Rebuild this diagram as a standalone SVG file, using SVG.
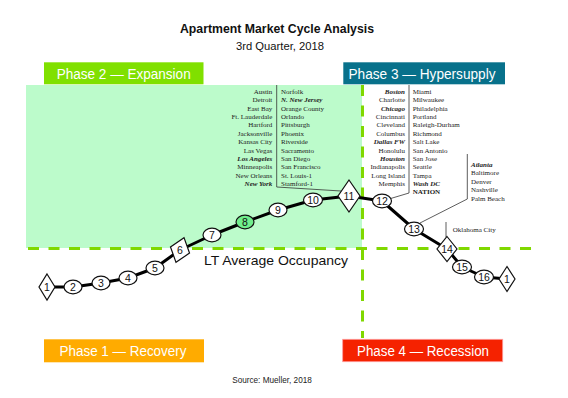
<svg xmlns="http://www.w3.org/2000/svg" width="568" height="398" viewBox="0 0 568 398">
<style>
.title{font-family:"Liberation Sans",Arial,sans-serif;font-weight:bold;font-size:12.2px;fill:#111}
.sub{font-family:"Liberation Sans",Arial,sans-serif;font-size:10.5px;fill:#111}
.phase{font-family:"Liberation Sans",Arial,sans-serif;font-size:14px;fill:#fff}
.occ{font-family:"Liberation Sans",Arial,sans-serif;font-size:13.5px;fill:#111}
.src{font-family:"Liberation Sans",Arial,sans-serif;font-size:8.2px;fill:#222}
.city{font-family:"Liberation Serif","Times New Roman",serif;font-size:7px;fill:#222}
.bi{font-weight:bold;font-style:italic}
.b{font-weight:bold}
.r{text-anchor:end}
.num{font-family:"Liberation Sans",Arial,sans-serif;font-size:10.5px;fill:#111;text-anchor:middle}
.node{fill:#fff;stroke:#111;stroke-width:1.2}
.hl{fill:#70ee8c}
.dash{stroke:#80d800;stroke-width:3;stroke-dasharray:11 9.5;fill:none}
.brk{stroke:#333;stroke-width:0.8;fill:none}
</style>

<rect x="26" y="85" width="336" height="163" fill="#bcfbcb"/>

<g id="axes">
<line class="dash" x1="28" y1="248.5" x2="533" y2="248.5"/>
<line class="dash" x1="362.5" y1="85" x2="362.5" y2="338"/>
</g>

<text class="title" x="277" y="33.3" text-anchor="middle" textLength="194" lengthAdjust="spacingAndGlyphs">Apartment Market Cycle Analysis</text>
<text class="sub" x="280" y="50" text-anchor="middle" textLength="88" lengthAdjust="spacingAndGlyphs">3rd Quarter, 2018</text>

<g id="phase2">
<rect x="44" y="62.3" width="159.5" height="22" fill="#80e000"/>
<text class="phase" x="123.7" y="79" text-anchor="middle" textLength="134" lengthAdjust="spacingAndGlyphs">Phase 2 — Expansion</text>
</g>
<g id="phase3">
<rect x="343.3" y="62.3" width="161.7" height="22" fill="#08718b"/>
<text class="phase" x="422" y="79" text-anchor="middle" textLength="147" lengthAdjust="spacingAndGlyphs">Phase 3 — Hypersupply</text>
</g>
<g id="phase1">
<rect x="44" y="339.3" width="160" height="23" fill="#ffab00"/>
<text class="phase" x="123" y="356" text-anchor="middle" textLength="127" lengthAdjust="spacingAndGlyphs">Phase 1 — Recovery</text>
</g>
<g id="phase4">
<rect x="342.7" y="339.3" width="160" height="22.4" fill="#f52200" stroke="#ff9a9a" stroke-width="0.8"/>
<text class="phase" x="423" y="356" text-anchor="middle" textLength="132" lengthAdjust="spacingAndGlyphs">Phase 4 — Recession</text>
</g>

<text class="occ" x="204" y="265" textLength="144" lengthAdjust="spacingAndGlyphs">LT Average Occupancy</text>

<g id="connectors">
<polyline fill="none" stroke="#000" stroke-width="3" stroke-linejoin="round" points="47,287 73,287 101,283 128,278 155,268 180,250 212,235 245,222 278,210 313,200 349,196 382,201 414,229 447,249 462,267 484,277 507,279"/>
<polyline class="brk" points="276.7,85 276.7,187 341,191"/>
<polyline class="brk" points="409,85 409,193 389,199"/>
<polyline class="brk" points="467.3,154 467.3,199 420,223"/>
<line class="brk" x1="446" y1="222" x2="446" y2="237"/>
</g>

<g id="list-expansion">
<text class="city r" x="272.3" y="94">Austin</text>
<text class="city r" x="272.3" y="102.36">Detroit</text>
<text class="city r" x="272.3" y="110.72">East Bay</text>
<text class="city r" x="272.3" y="119.08">Ft. Lauderdale</text>
<text class="city r" x="272.3" y="127.44">Hartford</text>
<text class="city r" x="272.3" y="135.8">Jacksonville</text>
<text class="city r" x="272.3" y="144.16">Kansas City</text>
<text class="city r" x="272.3" y="152.52">Las Vegas</text>
<text class="city r bi" x="272.3" y="160.88">Los Angeles</text>
<text class="city r" x="272.3" y="169.24">Minneapolis</text>
<text class="city r" x="272.3" y="177.6">New Orleans</text>
<text class="city r bi" x="272.3" y="185.96">New York</text>
<text class="city" x="281" y="94">Norfolk</text>
<text class="city bi" x="281" y="102.36">N. New Jersey</text>
<text class="city" x="281" y="110.72">Orange County</text>
<text class="city" x="281" y="119.08">Orlando</text>
<text class="city" x="281" y="127.44">Pittsburgh</text>
<text class="city" x="281" y="135.8">Phoenix</text>
<text class="city" x="281" y="144.16">Riverside</text>
<text class="city" x="281" y="152.52">Sacramento</text>
<text class="city" x="281" y="160.88">San Diego</text>
<text class="city" x="281" y="169.24">San Francisco</text>
<text class="city" x="281" y="177.6">St. Louis-1</text>
<text class="city" x="281" y="185.96">Stamford-1</text>
</g>

<g id="list-hypersupply">
<text class="city r bi" x="405" y="94">Boston</text>
<text class="city r" x="405" y="102.36">Charlotte</text>
<text class="city r bi" x="405" y="110.72">Chicago</text>
<text class="city r" x="405" y="119.08">Cincinnati</text>
<text class="city r" x="405" y="127.44">Cleveland</text>
<text class="city r" x="405" y="135.8">Columbus</text>
<text class="city r bi" x="405" y="144.16">Dallas FW</text>
<text class="city r" x="405" y="152.52">Honolulu</text>
<text class="city r bi" x="405" y="160.88">Houston</text>
<text class="city r" x="405" y="169.24">Indianapolis</text>
<text class="city r" x="405" y="177.6">Long Island</text>
<text class="city r" x="405" y="185.96">Memphis</text>
<text class="city" x="412.7" y="94">Miami</text>
<text class="city" x="412.7" y="102.36">Milwaukee</text>
<text class="city" x="412.7" y="110.72">Philadelphia</text>
<text class="city" x="412.7" y="119.08">Portland</text>
<text class="city" x="412.7" y="127.44">Raleigh-Durham</text>
<text class="city" x="412.7" y="135.8">Richmond</text>
<text class="city" x="412.7" y="144.16">Salt Lake</text>
<text class="city" x="412.7" y="152.52">San Antonio</text>
<text class="city" x="412.7" y="160.88">San Jose</text>
<text class="city" x="412.7" y="169.24">Seattle</text>
<text class="city" x="412.7" y="177.6">Tampa</text>
<text class="city bi" x="412.7" y="185.96">Wash DC</text>
<text class="city b" x="412.7" y="194.32">NATION</text>
</g>

<g id="list-13">
<text class="city bi" x="471" y="166.5">Atlanta</text>
<text class="city" x="471" y="175">Baltimore</text>
<text class="city" x="471" y="183.5">Denver</text>
<text class="city" x="471" y="192">Nashville</text>
<text class="city" x="471" y="200.5">Palm Beach</text>
</g>

<g id="list-14">
<text class="city" x="452.7" y="231.5">Oklahoma City</text>
</g>

<g id="n1a"><polygon class="node" points="47,274 55,287 47,300 39,287"/><text class="num" x="47" y="290.7">1</text></g>
<g id="n2"><ellipse class="node" cx="73" cy="287" rx="9" ry="6.8"/><text class="num" x="73" y="290.7">2</text></g>
<g id="n3"><ellipse class="node" cx="101" cy="283" rx="9" ry="6.8"/><text class="num" x="101" y="286.7">3</text></g>
<g id="n4"><ellipse class="node" cx="128" cy="278" rx="9" ry="6.8"/><text class="num" x="128" y="281.7">4</text></g>
<g id="n5"><ellipse class="node" cx="155" cy="268" rx="9" ry="6.8"/><text class="num" x="155" y="271.7">5</text></g>
<g id="n6"><polygon class="node" points="180,237 190,250 180,263 170,250" transform="rotate(18 180 250)"/><text class="num" x="180" y="253.7">6</text></g>
<g id="n7"><ellipse class="node" cx="212" cy="235" rx="9" ry="6.8"/><text class="num" x="212" y="238.7">7</text></g>
<g id="n8"><ellipse class="node hl" cx="245" cy="222" rx="9" ry="6.8"/><text class="num" x="245" y="225.7">8</text></g>
<g id="n9"><ellipse class="node" cx="278" cy="210" rx="9" ry="6.8"/><text class="num" x="278" y="213.7">9</text></g>
<g id="n10"><ellipse class="node" cx="313" cy="200" rx="9.5" ry="6.8"/><text class="num" x="313" y="203.7">10</text></g>
<g id="n11"><polygon class="node" points="349,180 360,196 349,212 338,196"/><text class="num" x="349" y="199.7">11</text></g>
<g id="n12"><ellipse class="node" cx="382" cy="201" rx="9.5" ry="6.8"/><text class="num" x="382" y="204.7">12</text></g>
<g id="n13"><ellipse class="node" cx="414" cy="229" rx="9.5" ry="6.8"/><text class="num" x="414" y="232.7">13</text></g>
<g id="n14"><polygon class="node" points="447,236.5 457,249 447,261.5 437,249"/><text class="num" x="447" y="252.7">14</text></g>
<g id="n15"><ellipse class="node" cx="462" cy="267" rx="9.5" ry="6.8"/><text class="num" x="462" y="270.7">15</text></g>
<g id="n16"><ellipse class="node" cx="484" cy="277" rx="9.5" ry="6.8"/><text class="num" x="484" y="280.7">16</text></g>
<g id="n1b"><polygon class="node" points="507,266.5 515,279 507,291.5 499,279"/><text class="num" x="507" y="282.7">1</text></g>

<text class="src" x="272" y="383" text-anchor="middle">Source: Mueller, 2018</text>
</svg>
